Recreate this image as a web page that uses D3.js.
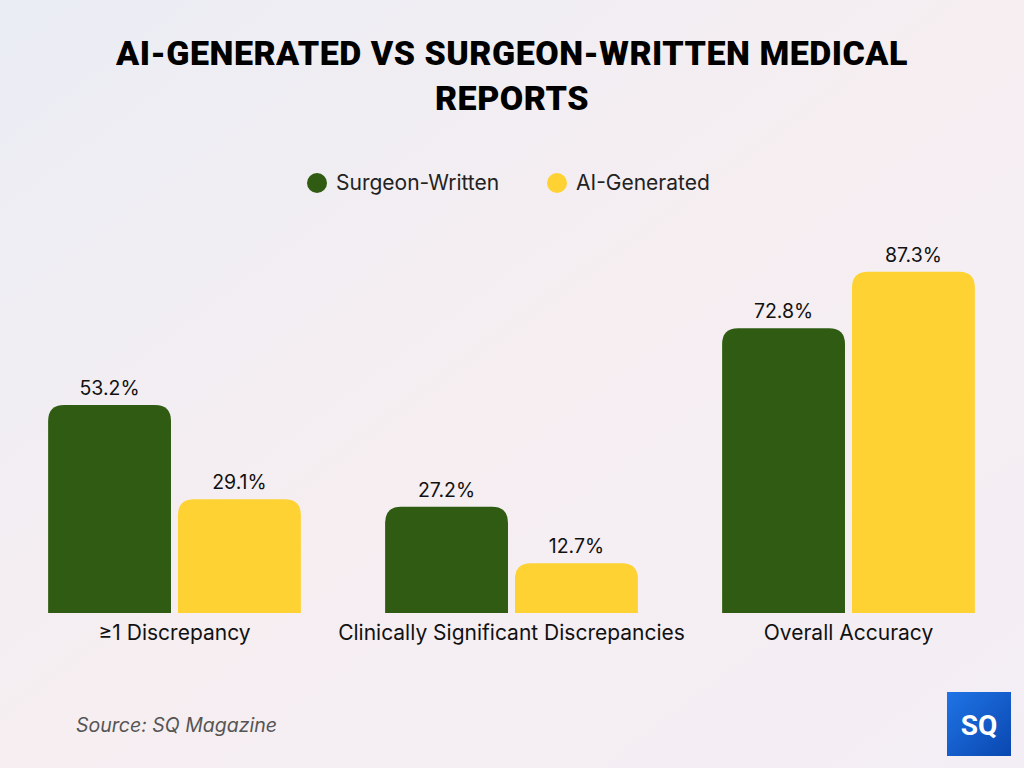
<!DOCTYPE html>
<html>
<head>
<meta charset="utf-8">
<script src="https://cdn.jsdelivr.net/npm/d3@7"></script>
<style>
  body { margin: 0; }
  svg { display: block; }
</style>
</head>
<body>
<div id="chart"></div>
<script>
// data
const categories = ["≥1 Discrepancy", "Clinically Significant Discrepancies", "Overall Accuracy"]
const seriesNames = ["Surgeon-Written", "AI-Generated"]
const surgeonValues = [53.2, 27.2, 72.8]
const aiValues = [29.1, 12.7, 87.3]
const colors = ["#2f5c12", "#fed232"]

const width = 1024
const height = 768
const baseline = 613

const svg = d3.select("#chart").append("svg")
    .attr("width", width)
    .attr("height", height)

// background
const defs = svg.append("defs")
const bg = defs.append("linearGradient").attr("id", "bg")
    .attr("x1", 0).attr("y1", 0).attr("x2", 1).attr("y2", 1)
bg.append("stop").attr("offset", 0).attr("stop-color", "#eaedf4")
bg.append("stop").attr("offset", 0.5).attr("stop-color", "#f6eef1")
bg.append("stop").attr("offset", 1).attr("stop-color", "#f3eef5")
svg.append("rect").attr("width", width).attr("height", height).attr("fill", "url(#bg)")

// title
svg.append("g")
    .attr("font-family", "Roboto")
    .attr("font-weight", 900)
    .attr("font-size", 34)
    .attr("letter-spacing", 0.5)
    .attr("text-anchor", "middle")
    .attr("fill", "#000")
    .selectAll("text")
    .data(["AI-GENERATED VS SURGEON-WRITTEN MEDICAL", "REPORTS"])
    .join("text")
    .attr("x", width / 2)
    .attr("y", (d, i) => 65 + i * 45)
    .text(d => d)

// legend
const legend = svg.append("g")
    .attr("font-family", "Inter")
    .attr("font-size", 21)
const legendX = [317, 557]
seriesNames.forEach((name, i) => {
    legend.append("circle")
        .attr("cx", legendX[i]).attr("cy", 183).attr("r", 10)
        .attr("fill", colors[i])
    legend.append("text")
        .attr("x", legendX[i] + 19).attr("y", 190)
        .attr("fill", "#222")
        .text(name)
})

// scales
const x0 = d3.scaleBand()
    .domain(categories)
    .range([6, 1017])
    .paddingInner(0.25)
    .paddingOuter(0.125)

const x1 = d3.scaleBand()
    .domain(seriesNames)
    .range([0, x0.bandwidth()])
    .paddingInner(0.054)

const y = d3.scaleLinear()
    .domain([0, 100])
    .range([baseline, baseline - 391])

const color = d3.scaleOrdinal().domain(seriesNames).range(colors)

const data = categories.map((c, i) => ({
    category: c,
    values: [
        { key: seriesNames[0], value: surgeonValues[i] },
        { key: seriesNames[1], value: aiValues[i] }
    ]
}))

// bar with rounded top corners
const topRounded = (x, yTop, w, h, r) => {
    r = Math.min(r, h, w / 2)
    return `M${x},${yTop + h}V${yTop + r}Q${x},${yTop} ${x + r},${yTop}H${x + w - r}Q${x + w},${yTop} ${x + w},${yTop + r}V${yTop + h}Z`
}

const groups = svg.append("g")
    .selectAll("g")
    .data(data)
    .join("g")
    .attr("transform", d => `translate(${x0(d.category)},0)`)

groups.selectAll("path")
    .data(d => d.values)
    .join("path")
    .attr("fill", d => color(d.key))
    .attr("d", d => topRounded(x1(d.key), y(d.value), x1.bandwidth(), baseline - y(d.value), 16))

groups.selectAll("text.val")
    .data(d => d.values)
    .join("text")
    .attr("class", "val")
    .attr("x", d => x1(d.key) + x1.bandwidth() / 2)
    .attr("y", d => y(d.value) - 10)
    .attr("text-anchor", "middle")
    .attr("font-family", "Inter")
    .attr("font-size", 19.5)
    .attr("fill", "#111")
    .text(d => d.value.toFixed(1) + "%")

// x axis labels
const xAxis = svg.append("g")
    .attr("transform", `translate(0,${baseline})`)
    .call(d3.axisBottom(x0).tickSize(0).tickPadding(12))
xAxis.select(".domain").remove()
xAxis.selectAll("text")
    .attr("font-family", "Inter")
    .attr("font-size", 21)
    .attr("fill", "#111")

// source
svg.append("text")
    .attr("x", 76).attr("y", 732)
    .attr("font-family", "Inter")
    .attr("font-style", "italic")
    .attr("font-size", 19.5)
    .attr("fill", "#555")
    .text("Source: SQ Magazine")

// logo
const lg = defs.append("linearGradient").attr("id", "logo")
    .attr("x1", 0).attr("y1", 0).attr("x2", 1).attr("y2", 1)
lg.append("stop").attr("offset", 0).attr("stop-color", "#1f74e6")
lg.append("stop").attr("offset", 1).attr("stop-color", "#0a47b0")
svg.append("rect")
    .attr("x", 947).attr("y", 692).attr("width", 64).attr("height", 64)
    .attr("fill", "url(#logo)")
svg.append("text")
    .attr("x", 979).attr("y", 735)
    .attr("text-anchor", "middle")
    .attr("font-family", "Roboto")
    .attr("font-weight", 700)
    .attr("font-size", 28)
    .attr("fill", "#fff")
    .text("SQ")
</script>
</body>
</html>
